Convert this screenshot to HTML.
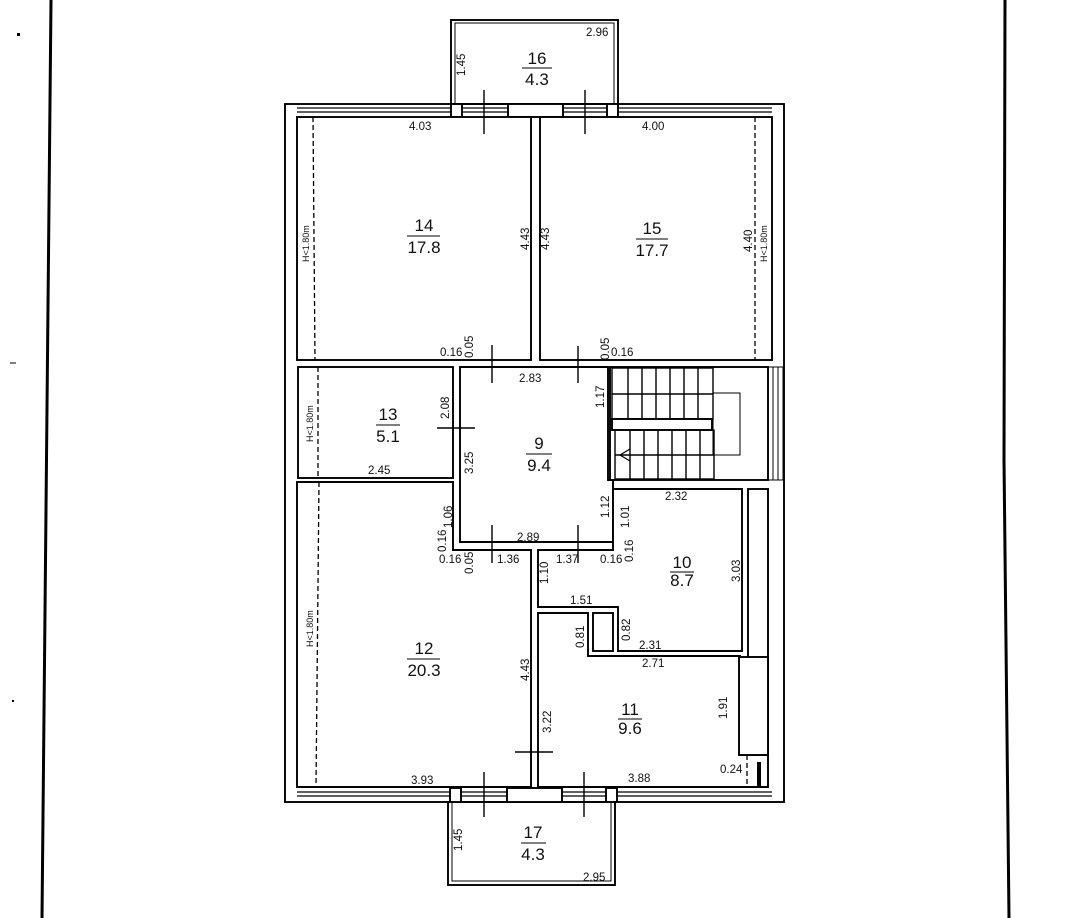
<!DOCTYPE html>
<html><head><meta charset="utf-8"><style>
html,body{margin:0;padding:0;background:#fff}
svg{display:block}
text{font-family:"Liberation Sans",sans-serif;fill:#111}
.d{font-size:11.5px}
.n{font-size:17px;text-anchor:middle}
</style></head><body>
<svg width="1091" height="918" viewBox="0 0 1091 918" xmlns="http://www.w3.org/2000/svg">
<rect width="1091" height="918" fill="#fff"/>
<g stroke="#000" fill="none">
<line x1="51" y1="0" x2="42" y2="918" stroke-width="3"/>
<polyline points="1005,0 1004,460 1009,918" stroke-width="3"/>
<rect x="17" y="33" width="3" height="3" fill="#000" stroke="none"/>
<line x1="10" y1="363" x2="16" y2="363" stroke-width="1"/>
<rect x="12" y="700" width="2" height="2" fill="#000" stroke="none"/>

<g stroke-width="1.9">
<rect x="285" y="104" width="499" height="698"/>
<rect x="451" y="20" width="167" height="84"/>
<rect x="455" y="23" width="159" height="81" stroke-width="1"/>
<rect x="448" y="802" width="167" height="83"/>
<rect x="452" y="802" width="159" height="79" stroke-width="1"/>
<line x1="297" y1="108" x2="772" y2="108" stroke-width="1.2"/>
<line x1="297" y1="112" x2="772" y2="112" stroke-width="1.2"/>
<line x1="297" y1="792" x2="772" y2="792" stroke-width="1.2"/>
<line x1="297" y1="796" x2="772" y2="796" stroke-width="1.2"/>
<rect x="451" y="104" width="11" height="13" fill="#fff"/>
<rect x="607" y="104" width="11" height="13" fill="#fff"/>
<rect x="508" y="104" width="55" height="13" fill="#fff"/>
<rect x="450" y="788" width="11" height="14" fill="#fff"/>
<rect x="606" y="788" width="11" height="14" fill="#fff"/>
<rect x="507" y="788" width="55" height="14" fill="#fff"/>

<rect x="297" y="117" width="234" height="243" fill="#fff"/>
<rect x="540" y="117" width="232" height="243" fill="#fff"/>
<rect x="298" y="367" width="155" height="111" fill="#fff"/>
<path d="M460 367 H608 V480 H613 V542 H460 Z" fill="#fff"/>
<rect x="610" y="367" width="158" height="113" fill="#fff"/>
<rect x="768" y="367" width="15" height="113" stroke-width="1"/>
<line x1="773" y1="367" x2="773" y2="480" stroke-width="1"/>
<line x1="778" y1="367" x2="778" y2="480" stroke-width="1"/>
<path d="M297 482 H453 V550 H531 V787 H297 Z" fill="#fff"/>
<path d="M618 489 H742 V651 H618 V607 H538 V550 H613 V489 Z" fill="#fff"/>
<path d="M538 613 H588 V656 H740 V755 H768 V787 H538 Z" fill="#fff"/>
<rect x="593" y="613" width="20" height="38" fill="#fff"/>
<rect x="748" y="489" width="20" height="266" fill="#fff"/>
<rect x="739" y="657" width="29" height="98" fill="#fff"/>
</g>

<g stroke-width="1.4">
<rect x="612" y="368" width="101" height="51"/>
<line x1="612" y1="394" x2="713" y2="394"/>
<rect x="612" y="419" width="100" height="11" stroke-width="1.9"/>
<rect x="615" y="430" width="99" height="49"/>
<line x1="615" y1="455" x2="714" y2="455"/>
<rect x="713" y="393" width="27" height="62" stroke-width="1"/>
<path d="M628 368V419M642 368V419M656 368V419M670 368V419M684 368V419M698 368V419"/>
<path d="M630 430V479M644 430V479M658 430V479M672 430V479M686 430V479M700 430V479"/>
<path d="M630 449 L620 455 L630 461" stroke-width="1.2"/>
</g>

<g stroke-width="1.3" stroke-dasharray="5,3">
<line x1="313" y1="117" x2="315" y2="360"/>
<line x1="755" y1="117" x2="755" y2="360"/>
<line x1="318" y1="367" x2="318" y2="478"/>
<line x1="319" y1="482" x2="316" y2="787"/>
<line x1="747" y1="755" x2="747" y2="787"/>
</g>
<rect x="757" y="762" width="4" height="25" fill="#000" stroke="none"/>

<g stroke-width="1.4">
<line x1="484" y1="90" x2="484" y2="134"/>
<line x1="585" y1="90" x2="585" y2="134"/>
<line x1="492" y1="345" x2="492" y2="383"/>
<line x1="578" y1="346" x2="578" y2="383"/>
<line x1="437" y1="428" x2="475" y2="428"/>
<line x1="492" y1="525" x2="492" y2="563"/>
<line x1="578" y1="525" x2="578" y2="563"/>
<line x1="515" y1="752" x2="553" y2="752"/>
<line x1="484" y1="772" x2="484" y2="817"/>
<line x1="584" y1="772" x2="584" y2="817"/>
</g>
</g>

<g>
<text class="n" x="537" y="64">16</text><line x1="522" y1="68" x2="552" y2="68" stroke="#000"/><text class="n" x="537" y="85">4.3</text>
<text class="n" x="424" y="231">14</text><line x1="407" y1="236" x2="440" y2="236" stroke="#000"/><text class="n" x="424" y="253">17.8</text>
<text class="n" x="652" y="234">15</text><line x1="636" y1="239" x2="668" y2="239" stroke="#000"/><text class="n" x="652" y="256">17.7</text>
<text class="n" x="388" y="420">13</text><line x1="376" y1="425" x2="400" y2="425" stroke="#000"/><text class="n" x="388" y="442">5.1</text>
<text class="n" x="539" y="449">9</text><line x1="526" y1="454" x2="552" y2="454" stroke="#000"/><text class="n" x="539" y="471">9.4</text>
<text class="n" x="682" y="568">10</text><line x1="670" y1="572" x2="694" y2="572" stroke="#000"/><text class="n" x="682" y="586">8.7</text>
<text class="n" x="424" y="654">12</text><line x1="407" y1="659" x2="440" y2="659" stroke="#000"/><text class="n" x="424" y="676">20.3</text>
<text class="n" x="630" y="715">11</text><line x1="618" y1="719" x2="642" y2="719" stroke="#000"/><text class="n" x="630" y="734">9.6</text>
<text class="n" x="533" y="838">17</text><line x1="521" y1="843" x2="546" y2="843" stroke="#000"/><text class="n" x="533" y="860">4.3</text>
</g>

<g class="d">
<text x="586" y="36">2.96</text>
<text x="409" y="130">4.03</text>
<text x="642" y="130">4.00</text>
<text x="440" y="356">0.16</text>
<text x="611" y="356">0.16</text>
<text x="519" y="382">2.83</text>
<text x="368" y="474">2.45</text>
<text x="665" y="500">2.32</text>
<text x="517" y="541">2.89</text>
<text x="439" y="563">0.16</text>
<text x="497" y="563">1.36</text>
<text x="556" y="563">1.37</text>
<text x="600" y="563">0.16</text>
<text x="570" y="604">1.51</text>
<text x="639" y="649">2.31</text>
<text x="642" y="667">2.71</text>
<text x="411" y="784">3.93</text>
<text x="628" y="782">3.88</text>
<text x="720" y="773">0.24</text>
<text x="583" y="881">2.95</text>
</g>
<g class="d">
<text transform="translate(465,76) rotate(-90)">1.45</text>
<text transform="translate(309,262) rotate(-90)" style="font-size:9px">H&lt;1.80m</text>
<text transform="translate(529,250) rotate(-90)">4.43</text>
<text transform="translate(549,250) rotate(-90)">4.43</text>
<text transform="translate(752,252) rotate(-90)">4.40</text>
<text transform="translate(767,262) rotate(-90)" style="font-size:9px">H&lt;1.80m</text>
<text transform="translate(473,358) rotate(-90)">0.05</text>
<text transform="translate(609,360) rotate(-90)">0.05</text>
<text transform="translate(604,408) rotate(-90)">1.17</text>
<text transform="translate(313,442) rotate(-90)" style="font-size:9px">H&lt;1.80m</text>
<text transform="translate(449,419) rotate(-90)">2.08</text>
<text transform="translate(473,474) rotate(-90)">3.25</text>
<text transform="translate(452,528) rotate(-90)">1.06</text>
<text transform="translate(446,552) rotate(-90)">0.16</text>
<text transform="translate(473,574) rotate(-90)">0.05</text>
<text transform="translate(609,518) rotate(-90)">1.12</text>
<text transform="translate(629,528) rotate(-90)">1.01</text>
<text transform="translate(633,562) rotate(-90)">0.16</text>
<text transform="translate(548,584) rotate(-90)">1.10</text>
<text transform="translate(740,582) rotate(-90)">3.03</text>
<text transform="translate(584,648) rotate(-90)">0.81</text>
<text transform="translate(630,641) rotate(-90)">0.82</text>
<text transform="translate(313,647) rotate(-90)" style="font-size:9px">H&lt;1.80m</text>
<text transform="translate(529,681) rotate(-90)">4.43</text>
<text transform="translate(551,733) rotate(-90)">3.22</text>
<text transform="translate(727,719) rotate(-90)">1.91</text>
<text transform="translate(462,851) rotate(-90)">1.45</text>
</g>
</svg>
</body></html>
